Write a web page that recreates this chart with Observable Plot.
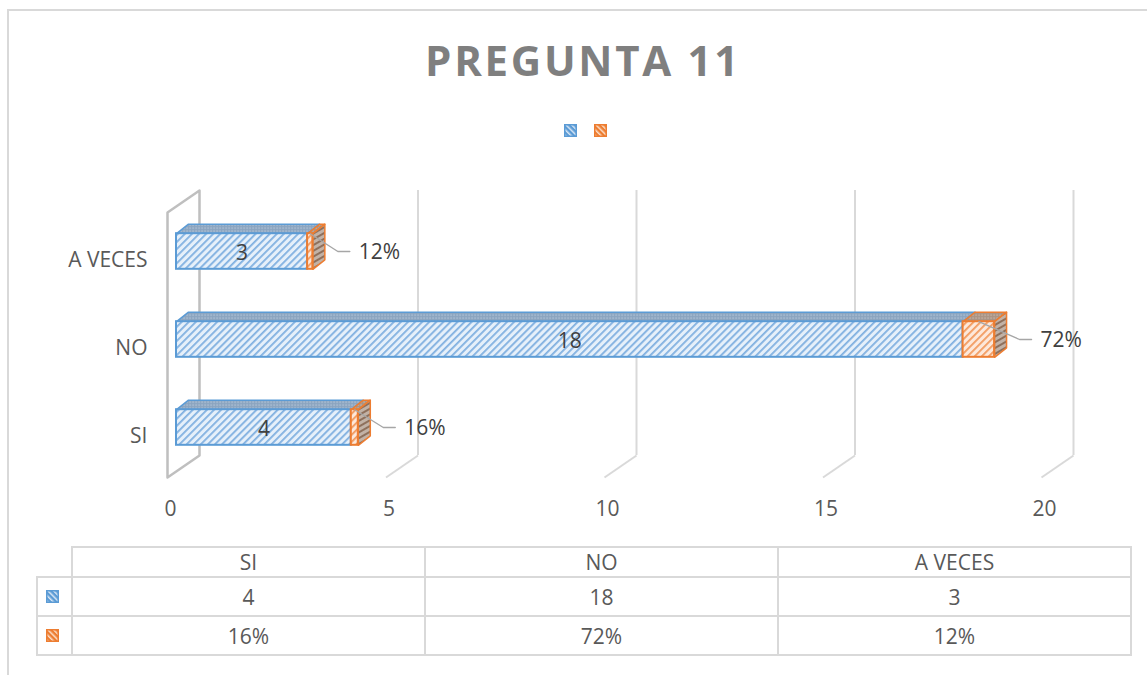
<!DOCTYPE html>
<html><head><meta charset="utf-8">
<script src="https://cdn.jsdelivr.net/npm/d3@7"></script>
<script src="https://cdn.jsdelivr.net/npm/@observablehq/plot@0.6"></script>
<style>
body{margin:0;width:1147px;height:675px;overflow:hidden;background:#fff;font-family:"Open Sans",sans-serif;position:relative}
#frame{position:absolute;left:7px;top:9px;width:1200px;height:700px;border:2px solid #d9d9d9;box-sizing:border-box}
#title{position:absolute;left:0;width:1166px;top:34px;text-align:center;font-weight:700;font-size:42px;letter-spacing:2.7px;color:#7f7f7f;line-height:52px;margin:0}
#legend{position:absolute;left:564px;top:124px;display:flex;gap:17px}
#legend svg{display:block}
#chart{position:absolute;left:0;top:170px}
#tbl{position:absolute;left:36px;top:546px;border-collapse:collapse;font-size:21px;color:#595959;table-layout:fixed}
#tbl td{border:2px solid #d9d9d9;text-align:center;padding:0;line-height:22px}
#tbl td.key{width:33px}
#tbl td.cat{width:351px}
#tbl tr.h td{height:28px}
#tbl tr.r td{height:37px}
#tbl td.blank{border-top:none;border-left:none}
#tbl td.key svg{display:block;margin:0 0 0 8px}
</style></head>
<body>
<svg width="0" height="0" style="position:absolute">
<defs>
<pattern id="blueFront" patternUnits="userSpaceOnUse" width="5" height="5" patternTransform="rotate(45)">
<rect width="5" height="5" fill="#e6f0fa"/><rect width="1.8" height="5" fill="#80b0e0"/></pattern>
<pattern id="orangeFront" patternUnits="userSpaceOnUse" width="5" height="5" patternTransform="rotate(45)">
<rect width="5" height="5" fill="#fde8da"/><rect width="1.8" height="5" fill="#f29a5e"/></pattern>
<pattern id="blueTop" patternUnits="userSpaceOnUse" width="3" height="3">
<rect width="3" height="3" fill="#8aa4bf"/><rect width="1.2" height="1.2" fill="#c6d4e3"/></pattern>
<pattern id="orangeTop" patternUnits="userSpaceOnUse" width="3" height="3">
<rect width="3" height="3" fill="#a99282"/><rect width="1.2" height="1.2" fill="#d6c8be"/></pattern>
<pattern id="orangeSide" patternUnits="userSpaceOnUse" width="5" height="5" patternTransform="rotate(60)">
<rect width="5" height="5" fill="#c2b2a6"/><rect width="2" height="5" fill="#8e705c"/></pattern>
<pattern id="blueKey" patternUnits="userSpaceOnUse" width="4" height="4" patternTransform="rotate(-45)">
<rect width="4" height="4" fill="#5b9bd5"/><rect width="1.5" height="4" fill="#dbe8f6"/></pattern>
<pattern id="orangeKey" patternUnits="userSpaceOnUse" width="4" height="4" patternTransform="rotate(-45)">
<rect width="4" height="4" fill="#ed7d31"/><rect width="1.5" height="4" fill="#fbe0cc"/></pattern>
</defs>
</svg>
<div id="frame"></div>
<h1 id="title">PREGUNTA 11</h1>
<div id="legend"></div>
<div id="chart"></div>
<table id="tbl"></table>
<script>
// ---- data ----
const categories = ["SI", "NO", "A VECES"];
const counts = [4, 18, 3];
const shares = [0.16, 0.72, 0.12];
const xTicks = [0, 5, 10, 15, 20];
const seriesFill = ["blueKey", "orangeKey"];
const seriesStroke = ["#5b9bd5", "#ed7d31"];

const pct = d3.format(".0%");

// ---- 3D projection helpers (scale geometry) ----
const X_RANGE = [176, 1050], Y_RANGE = [257, 81];
const pxX = (X_RANGE[1] - X_RANGE[0]) / 20;
const pxY = (Y_RANGE[0] - Y_RANGE[1]) / 2;
const H = 17.8 / pxY;            // half bar thickness
const DX = 12 / pxX, DY = 9.5 / pxY; // bar depth
const BACK_DX = 23 / pxX, FRONT_DX = -9 / pxX;
const WALL_TOP_BACK = 237 / pxY, WALL_TOP_FRONT = 215 / pxY;
const FLOOR_BACK = -28 / pxY, FLOOR_FRONT = -50 / pxY;
const LABEL_DX = 46;
const FS = 21;

const rows = categories.map((c, i) => ({c, i, count: counts[i], share: shares[i]}));
const poly = (id, pts) => pts.map(([x, y]) => ({id, x, y}));

const blueTop = rows.flatMap(d => poly("bt" + d.i, [[0, d.i + H], [d.count, d.i + H], [d.count + DX, d.i + H + DY], [DX, d.i + H + DY]]));
const orangeTop = rows.flatMap(d => { const a = d.count, b = d.count + d.share;
  return poly("ot" + d.i, [[a, d.i + H], [b, d.i + H], [b + DX, d.i + H + DY], [a + DX, d.i + H + DY]]); });
const orangeSide = rows.flatMap(d => { const b = d.count + d.share;
  return poly("os" + d.i, [[b, d.i + H], [b + DX, d.i + H + DY], [b + DX, d.i - H + DY], [b, d.i - H]]); });
const wall = poly("wall", [[xTicks[0] + FRONT_DX, FLOOR_FRONT], [xTicks[0] + FRONT_DX, WALL_TOP_FRONT], [xTicks[0] + BACK_DX, WALL_TOP_BACK], [xTicks[0] + BACK_DX, FLOOR_BACK]]);
const leaders = rows.flatMap(d => { const e = d.count + d.share; return [
  {id: d.i, x: d.count + d.share / 2, y: d.i + H},
  {id: d.i, x: e + (LABEL_DX - 21) / pxX, y: d.i},
  {id: d.i, x: e + (LABEL_DX - 9) / pxX, y: d.i}]; });

const grid = xTicks.slice(1);

const chart = Plot.plot({
  width: 1147, height: 370,
  marginLeft: 150, marginBottom: 40, marginTop: 0, marginRight: 0,
  x: {domain: [0, 20], range: X_RANGE},
  y: {domain: [0, 2], range: Y_RANGE},
  style: {fontFamily: "Open Sans", background: "transparent", overflow: "visible"},
  marks: [
    Plot.ruleX(grid, {x: d => d + BACK_DX, y1: () => FLOOR_BACK, y2: () => WALL_TOP_BACK, stroke: "#d9d9d9", strokeWidth: 2}),
    Plot.link(grid, {x1: d => d + BACK_DX, y1: () => FLOOR_BACK, x2: d => d + FRONT_DX, y2: () => FLOOR_FRONT, stroke: "#d9d9d9", strokeWidth: 2}),
    Plot.line(wall, {x: "x", y: "y", z: "id", curve: "linear-closed", stroke: "#bfbfbf", strokeWidth: 2.5, fill: "none"}),
    Plot.line(blueTop, {x: "x", y: "y", z: "id", curve: "linear-closed", fill: "url(#blueTop)", stroke: "#5b9bd5", strokeWidth: 1.5}),
    Plot.line(orangeTop, {x: "x", y: "y", z: "id", curve: "linear-closed", fill: "url(#orangeTop)", stroke: "#ed7d31", strokeWidth: 1.5}),
    Plot.line(orangeSide, {x: "x", y: "y", z: "id", curve: "linear-closed", fill: "url(#orangeSide)", stroke: "#ed7d31", strokeWidth: 1.5}),
    Plot.rect(rows, {x1: () => 0, x2: "count", y1: d => d.i - H, y2: d => d.i + H, fill: "url(#blueFront)", stroke: "#5b9bd5", strokeWidth: 2}),
    Plot.rect(rows, {x1: "count", x2: d => d.count + d.share, y1: d => d.i - H, y2: d => d.i + H, fill: "url(#orangeFront)", stroke: "#ed7d31", strokeWidth: 2}),
    Plot.text(rows, {x: d => d.count / 2, y: "i", text: d => String(d.count), fontSize: FS, fill: "#404040", dy: 2}),
    Plot.line(leaders, {x: "x", y: "y", z: "id", stroke: "#a6a6a6", strokeWidth: 1.3}),
    Plot.text(rows, {x: d => d.count + d.share, y: "i", text: d => pct(d.share), dx: LABEL_DX, textAnchor: "start", fontSize: FS, fill: "#404040", dy: 1}),
    Plot.axisX({ticks: xTicks, tickSize: 0, tickPadding: 1, fontSize: FS, color: "#595959", dx: -6, label: null}),
    Plot.axisY({ticks: categories.map((_, i) => i), tickFormat: i => categories[i], tickSize: 0, tickPadding: 3, fontSize: FS, color: "#595959", dy: 9, label: null})
  ]
});
document.getElementById("chart").appendChild(chart);

// ---- legend ----
const keySvg = k => `<svg width="13" height="13"><rect x="0.75" y="0.75" width="11.5" height="11.5" fill="url(#${seriesFill[k]})" stroke="${seriesStroke[k]}" stroke-width="1.5"/></svg>`;
document.getElementById("legend").innerHTML = keySvg(0) + keySvg(1);

// ---- data table ----
const tbl = document.getElementById("tbl");
let html = `<tr class="h"><td class="key blank"></td>${categories.map(c => `<td class="cat">${c}</td>`).join("")}</tr>`;
html += `<tr class="r"><td class="key">${keySvg(0)}</td>${counts.map(v => `<td>${v}</td>`).join("")}</tr>`;
html += `<tr class="r"><td class="key">${keySvg(1)}</td>${shares.map(v => `<td>${pct(v)}</td>`).join("")}</tr>`;
tbl.innerHTML = html;
</script>
</body></html>
